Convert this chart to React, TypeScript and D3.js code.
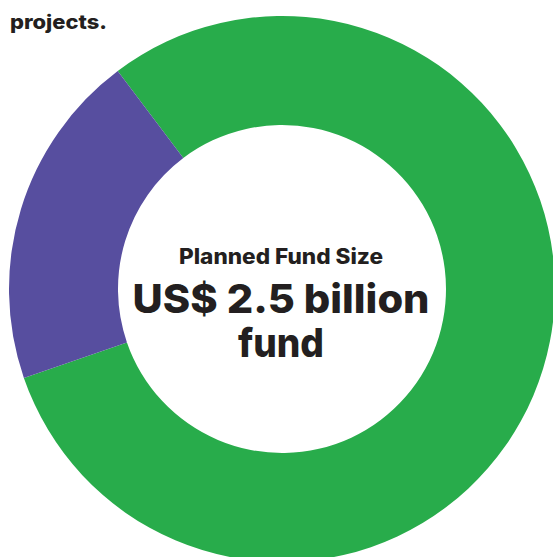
import React from "react";
import * as d3 from "d3";

const categories = ["Other", "Projects"];
const values = [80, 20];
const colors = ["#28ac4b", "#574e9f"];
const centerTitle = "Planned Fund Size";
const centerValueLines = ["US$ 2.5 billion", "fund"];
const topText = "projects.";

export default function App() {
  const W = 553, H = 557;
  const cx = 282, cy = 289, rOuter = 273, rInner = 164;
  const start = (-37 * Math.PI) / 180;
  const pie = d3.pie<number>().sort(null).startAngle(start).endAngle(start + 2 * Math.PI);
  const arcs = pie(values);
  const arc = d3.arc<d3.PieArcDatum<number>>().innerRadius(rInner).outerRadius(rOuter);
  const font = "Inter, 'Open Sans', sans-serif";
  const valueLens = [297, 86];
  return (
    <svg width={W} height={H} style={{ position: "absolute", left: 0, top: 0, background: "#fff" }}>
      <g transform={`translate(${cx},${cy})`}>
        {arcs.map((a, i) => (
          <path key={categories[i]} d={arc(a) || ""} fill={colors[i]} />
        ))}
      </g>
      <text x={10} y={29} fontFamily={font} fontWeight={800} fontSize={20} fill="#231f20" textLength={97} lengthAdjust="spacingAndGlyphs">{topText}</text>
      <text x={281} y={264} textAnchor="middle" fontFamily={font} fontWeight={800} fontSize={21} fill="#231f20" textLength={204} lengthAdjust="spacingAndGlyphs">{centerTitle}</text>
      {centerValueLines.map((t, i) => (
        <text key={t} x={281} y={313 + i * 44} textAnchor="middle" fontFamily={font} fontWeight={800} fontSize={40} fill="#231f20" textLength={valueLens[i]} lengthAdjust="spacingAndGlyphs">{t}</text>
      ))}
    </svg>
  );
}
